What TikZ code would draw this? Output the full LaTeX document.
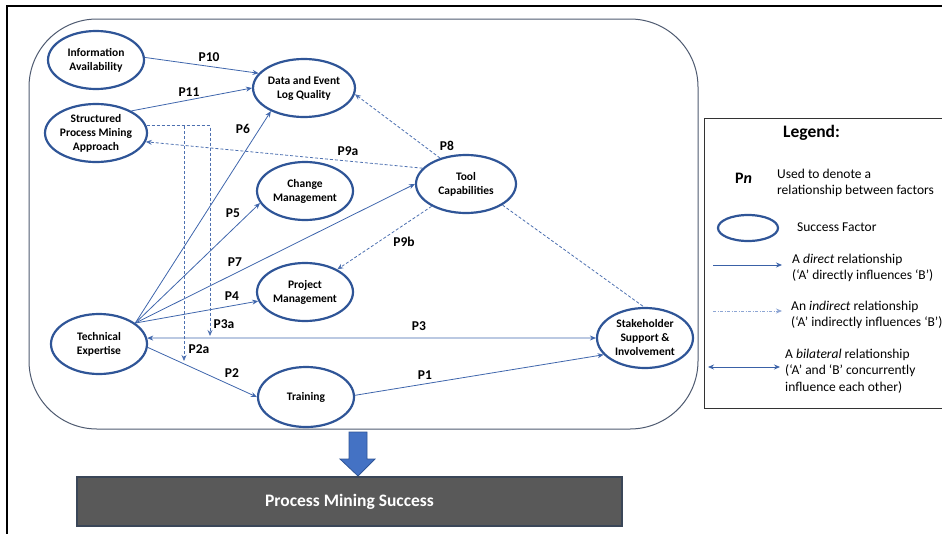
\documentclass[tikz,border=0pt]{standalone}
\usepackage{fontspec}
\setmainfont{Carlito}
\usetikzlibrary{shapes.geometric,arrows.meta}
\definecolor{ellc}{HTML}{2F5597}
\definecolor{linec}{HTML}{3F66AC}
\definecolor{dashc}{HTML}{4D70B0}
\definecolor{legdash}{HTML}{8EA6D4}
\definecolor{arrowc}{HTML}{4472C4}
\definecolor{boxgray}{HTML}{595959}
\definecolor{boxedge}{HTML}{3A4658}
\definecolor{contc}{HTML}{4E5A70}
\begin{document}
\begin{tikzpicture}[x=1pt,y=-1pt,
  fac/.style={ellipse, draw=ellc, line width=2.2pt, minimum width=96pt, minimum height=58pt,
    inner sep=0pt, align=center, font=\fontsize{11.5}{14}\selectfont\bfseries, text=black},
  lab/.style={font=\fontsize{13.5}{16}\selectfont\bfseries, inner sep=0pt},
  dir/.style={draw=linec, line width=0.8pt, -{Stealth[length=6pt,width=5pt]}},
  ind/.style={draw=dashc, line width=0.8pt, dash pattern=on 3pt off 2pt, -{Stealth[length=6pt,width=5pt]}},
  bil/.style={draw=linec, line width=0.8pt, {Stealth[length=6pt,width=5pt]}-{Stealth[length=6pt,width=5pt]}},
  legtxt/.style={font=\fontsize{13.5}{16.5}\selectfont, inner sep=0pt, align=left, anchor=west}
]
\useasboundingbox (0,0) rectangle (942,533);
\clip (0,0) rectangle (942,533);

% outer frame
\draw[line width=2.5pt] (7,540) -- (7,6) -- (950,6);

% container
\draw[draw=contc, line width=1pt, rounded corners=68pt] (29,19) rectangle (698,429);

% factors
\node[fac] (info)   at (96,60)   {Information\\Availability};
\node[fac] (data)   at (304,88)  {Data and Event\\Log Quality};
\node[fac] (struct) at (96,133)  {Structured\\Process Mining\\Approach};
\node[fac] (change) at (305,191) {Change\\Management};
\node[fac, minimum width=100pt] (tool) at (466,184) {Tool\\Capabilities};
\node[fac] (proj)   at (305,292) {Project\\Management};
\node[fac, minimum height=60pt] (tech) at (99,344) {Technical\\Expertise};
\node[fac, minimum height=60pt] (train) at (306,397) {Training};
\node[fac, minimum height=60pt] (stake) at (645,338) {Stakeholder\\Support \&\\Involvement};

% direct relationships
\draw[dir] (info.3) -- (data.162);
\draw[dir] (struct.32) -- (data.180);
\draw[dir] (tech.30) -- (data.215);
\draw[dir] (tech.30) -- (change.195);
\draw[dir] (tech.30) -- (tool.180);
\draw[dir] (tech.30) -- (proj.191);
\draw[bil] (tech.7) -- (stake.180);
\draw[dir] (tech.356) -- (train.180);
\draw[dir] (train.2) -- (stake.202);

% indirect relationships
\draw[ind] (tool.135) -- (data.353);
\draw[ind] (tool.160) -- (struct.350);
\draw[ind] (tool.213) -- (proj.35);
\draw[draw=dashc, line width=0.8pt, dash pattern=on 3pt off 2pt] (tool.330) -- (stake.92);

\coordinate (p3a) at (210,336);
\coordinate (p2a) at (184,361);
\coordinate (mb) at (184,126.4);
\draw[ind] (struct.8) -| (p3a);
\draw[ind] (mb) -- (p2a);

% labels
\node[lab] (l10) at (209,57)  {P10};
\node[lab] (l11) at (189,92)  {P11};
\node[lab] (l6)  at (243,129) {P6};
\node[lab] (l9a) at (348,151) {P9a};
\node[lab] (l8)  at (447,146) {P8};
\node[lab] (l5)  at (233,213) {P5};
\node[lab] (l9b) at (404,242) {P9b};
\node[lab] (l7)  at (235,262) {P7};
\node[lab] (l4)  at (232,296) {P4};
\node[lab] (l3a) at (224,324) {P3a};
\node[lab] (l3)  at (419,326) {P3};
\node[lab] (l2a) at (199,349) {P2a};
\node[lab] (l2)  at (232,373) {P2};
\node[lab] (l1)  at (425,375) {P1};

% big arrow
\draw[fill=arrowc, draw=ellc, line width=0.8pt, line join=miter]
  (349,432) -- (367,432) -- (367,459) -- (375,459) -- (358,476) -- (340,459) -- (349,459) -- cycle;

% result box
\node[fill=boxgray, draw=boxedge, line width=1.2pt, minimum width=545pt, minimum height=49pt,
  inner sep=0pt, text=white, font=\fontsize{17.5}{20}\selectfont\bfseries] (pms) at (349.5,501.5)
  {Process Mining Success};

% legend
\draw[draw=black!80, line width=0.9pt] (704,118) rectangle (960,408);
\node[font=\fontsize{17.5}{20}\selectfont\bfseries, inner sep=0pt, anchor=west] (legt) at (783,133) {Legend:};
\node[font=\fontsize{16}{19}\selectfont\bfseries, inner sep=0pt, anchor=west] (legp) at (735,178) {P\textit{n}};
\node[legtxt] (legpt) at (777,183) {Used to denote a\\relationship between factors};
\node[ellipse, draw=ellc, line width=2.2pt, minimum width=60pt, minimum height=26pt, inner sep=0pt] (legell) at (748,228) {};
\node[legtxt] (legst) at (797,227) {Success Factor};
\coordinate (ld1) at (713,265); \coordinate (ld2) at (782,265);
\draw[dir, draw=arrowc!85!black] (ld1) -- (ld2);
\node[legtxt] (legdt) at (792,268) {A \textit{direct} relationship\\(‘A’ directly influences ‘B’)};
\coordinate (li1) at (713,311); \coordinate (li2) at (782,311);
\draw[draw=legdash, line width=0.8pt, dash pattern=on 3pt off 1.5pt on 1pt off 1.5pt, -{Stealth[length=6pt,width=5pt]}] (li1) -- (li2);
\node[legtxt] (legit) at (791,315) {An \textit{indirect} relationship\\(‘A’ indirectly influences ‘B’)};
\coordinate (lb1) at (708,367); \coordinate (lb2) at (780,367);
\draw[bil, draw=arrowc!85!black] (lb1) -- (lb2);
\node[legtxt] (legbt) at (785,371) {A \textit{bilateral} relationship\\(‘A’ and ‘B’ concurrently\\influence each other)};
\end{tikzpicture}
\end{document}
